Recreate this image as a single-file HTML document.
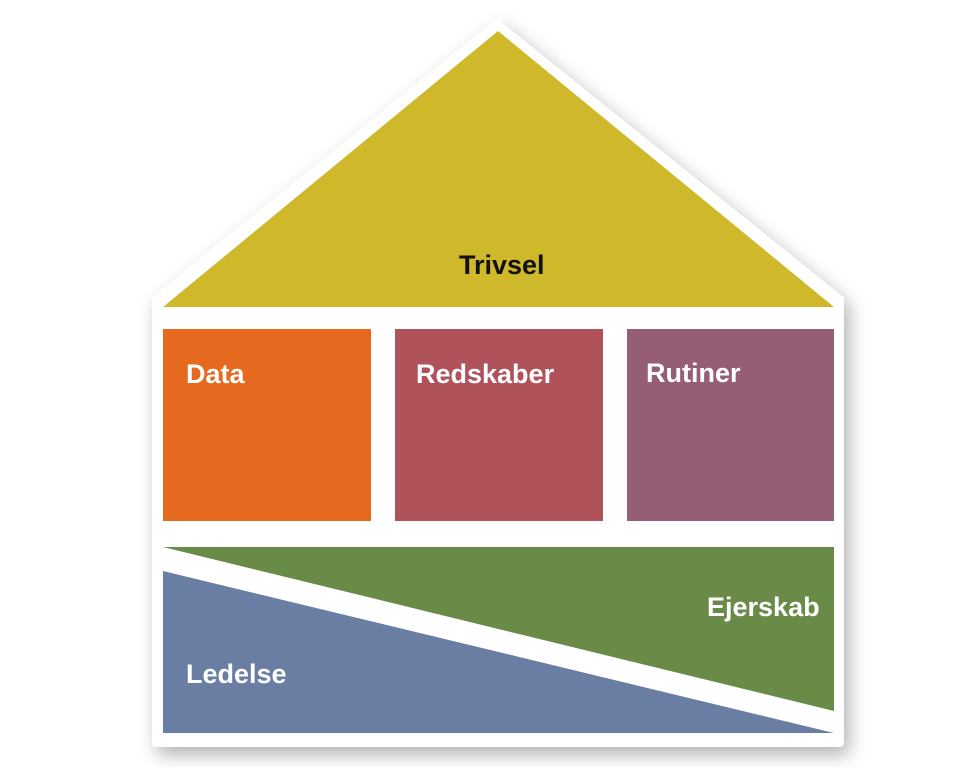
<!DOCTYPE html>
<html><head><style>
body{margin:0;background:#fff;width:959px;height:767px;overflow:hidden}
text{font-family:"Liberation Sans",Arial,sans-serif;font-weight:bold;font-size:27px}
</style></head><body>
<svg width="959" height="767" viewBox="0 0 959 767">
<defs><filter id="s" x="-10%" y="-10%" width="130%" height="130%"><feDropShadow dx="5" dy="8" stdDeviation="9" flood-color="#000" flood-opacity="0.3"/></filter></defs>
<path d="M497,20 L843,298 L843,742 Q843,746 839,746 L157,746 Q153,746 153,742 L153,298 Z" fill="#fff" filter="url(#s)" stroke="#fff" stroke-width="2" stroke-linejoin="round"/>
<polygon points="498,31 834,307 163,307" fill="#D0B82B"/>
<rect x="163" y="329" width="208" height="192" fill="#E56A1F"/>
<rect x="395" y="329" width="208" height="192" fill="#B0525A"/>
<rect x="627" y="329" width="207" height="192" fill="#955D76"/>
<polygon points="163,547 834,547 834,711" fill="#6A8A48"/>
<polygon points="163,571 834,733 163,733" fill="#6A7EA3"/>
<text x="459" y="274" fill="#111">Trivsel</text>
<text x="186" y="383" fill="#fff">Data</text>
<text x="416" y="383" fill="#fff">Redskaber</text>
<text x="646" y="382" fill="#fff">Rutiner</text>
<text x="707" y="616" fill="#fff">Ejerskab</text>
<text x="186" y="683" fill="#fff">Ledelse</text>
</svg>
</body></html>
